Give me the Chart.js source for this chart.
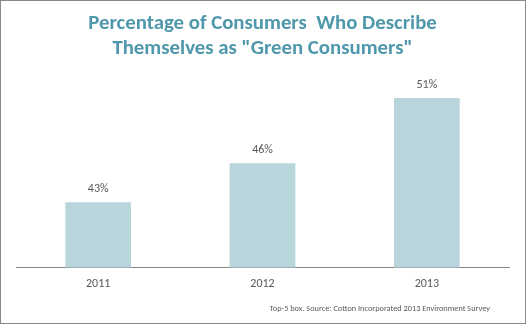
<!DOCTYPE html>
<html><head><meta charset="utf-8">
<script src="https://cdn.jsdelivr.net/npm/chart.js@4"></script>
<style>html,body{margin:0;padding:0;background:#fff}#wrap{width:526px;height:324px;position:relative}</style>
</head><body><div id="wrap"><canvas id="c" width="526" height="324"></canvas></div>
<script>
const categories = ["2011", "2012", "2013"];
const values = [43, 46, 51];
const valueLabels = ["43%", "46%", "51%"];
const titleLines = ["Percentage of Consumers  Who Describe", "Themselves as \"Green Consumers\""];
const footnote = "Top-5 box. Source: Cotton Incorporated 2013 Environment Survey";

const FONT = "Carlito, Lato, 'Open Sans', sans-serif";

const extras = {
  id: 'extras',
  afterDatasetsDraw(chart) {
    const ctx = chart.ctx;
    const meta = chart.getDatasetMeta(0);
    ctx.save();
    ctx.fillStyle = '#595959';
    ctx.font = '12px ' + FONT;
    ctx.textAlign = 'center';
    ctx.textBaseline = 'middle';
    meta.data.forEach((bar, i) => {
      ctx.fillText(valueLabels[i], bar.x, bar.y - 13);
    });
    ctx.restore();
  },
  afterDraw(chart) {
    const ctx = chart.ctx;
    ctx.save();
    ctx.fillStyle = '#595959';
    ctx.font = '8.3px ' + FONT;
    ctx.textAlign = 'right';
    ctx.textBaseline = 'middle';
    ctx.fillText(footnote, 490, 309);
    ctx.strokeStyle = '#8a8a8a';
    ctx.lineWidth = 1;
    ctx.strokeRect(0.5, 0.5, chart.width - 1, chart.height - 1);
    ctx.restore();
  }
};

new Chart(document.getElementById('c'), {
  type: 'bar',
  data: {
    labels: categories,
    datasets: [{ data: values, backgroundColor: '#b8d5dc', barPercentage: 0.4, categoryPercentage: 1.0 }]
  },
  options: {
    responsive: false,
    animation: false,
    devicePixelRatio: 1,
    layout: { padding: { left: 16, right: 17, bottom: 24, top: 0 } },
    plugins: {
      legend: { display: false },
      tooltip: { enabled: false },
      title: {
        display: true,
        text: titleLines,
        color: '#4f98ab',
        font: { family: FONT, size: 20.8, weight: 'bold', lineHeight: 1.2 },
        padding: { top: 11, bottom: 24 }
      }
    },
    scales: {
      x: {
        grid: { display: true, drawOnChartArea: false, drawTicks: false, color: 'rgba(0,0,0,0)' },
        border: { display: true, color: '#868686', width: 1 },
        ticks: { color: '#595959', font: { family: FONT, size: 12 }, padding: 9 }
      },
      y: {
        display: false,
        min: 38,
        max: 52
      }
    }
  },
  plugins: [extras]
});
</script></body></html>
